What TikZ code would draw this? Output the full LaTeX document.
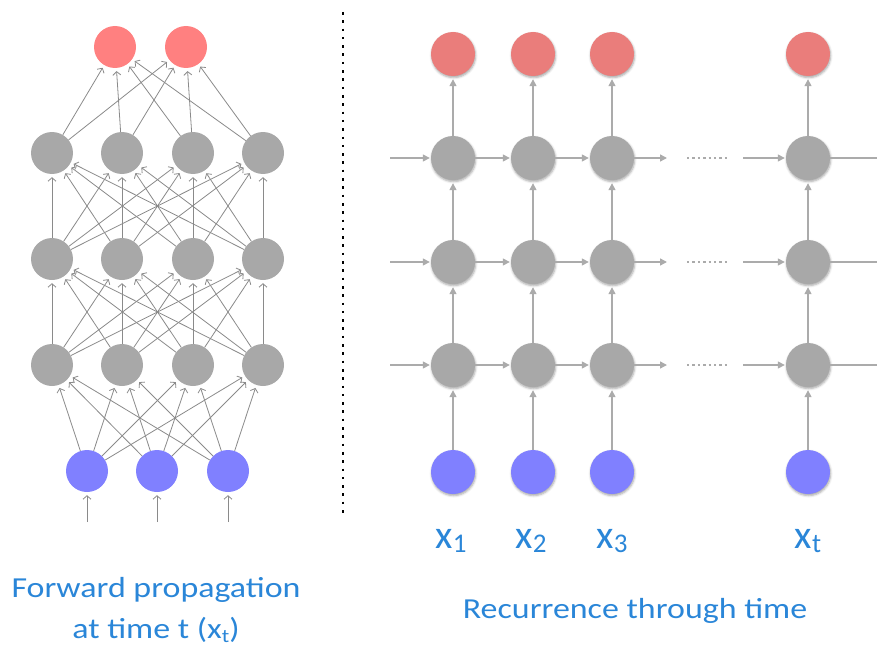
\documentclass[tikz,border=0pt]{standalone}
\usepackage{fontspec}
\setmainfont{Carlito}
\usetikzlibrary{arrows.meta,shadows.blur}
\definecolor{ffred}{HTML}{FF8080}
\definecolor{rnnred}{HTML}{EA7D7B}
\definecolor{unitgrey}{HTML}{A8A8A8}
\definecolor{inblue}{HTML}{8080FF}
\definecolor{edgegrey}{HTML}{8A8A8A}
\definecolor{linkgrey}{HTML}{ABABAB}
\definecolor{labelblue}{HTML}{2A86D8}
\newcommand{\xsub}[1]{x\raisebox{-0.12em}{\fontsize{27}{27}\selectfont #1}}
\newcommand{\widetext}[1]{\scalebox{1.17}[1]{#1}}
\begin{document}
\begin{tikzpicture}[x=1pt,y=-1pt,
  ffunit/.style={circle,minimum size=42pt,inner sep=0pt},
  rnnunit/.style={circle,minimum size=44pt,inner sep=0pt,
    blur shadow={shadow xshift=0.6pt,shadow yshift=-1.6pt,shadow blur radius=2.2pt,shadow opacity=35}},
  ffedge/.style={draw=edgegrey,line width=0.8pt,shorten >=3pt,
    -{Straight Barb[length=3.5pt,width=8pt,line width=0.8pt]}},
  rnnlink/.style={draw=linkgrey,line width=1.4pt,shorten >=1pt,
    -{Triangle[length=7pt,width=7pt]}},
  rnnplain/.style={draw=linkgrey,line width=1.4pt},
  gap/.style={draw=linkgrey,line width=2pt,dash pattern=on 2.4pt off 3pt},
  caption/.style={text=labelblue,font=\fontsize{29}{41}\selectfont,align=center},
  xlabel/.style={text=labelblue,font=\fontsize{40}{40}\selectfont,anchor=base}]
\useasboundingbox (0,0) rectangle (877,650);

% ---------- feed-forward network ----------
\foreach \i/\x in {1/87,2/157,3/228} {
  \node[ffunit,fill=inblue] (in\i) at (\x,471) {};
  \coordinate (src\i) at (\x,522);
}
\foreach \j/\x in {1/52,2/122,3/193,4/263} {
  \node[ffunit,fill=unitgrey] (ha\j) at (\x,365) {};
  \node[ffunit,fill=unitgrey] (hb\j) at (\x,259) {};
  \node[ffunit,fill=unitgrey] (hc\j) at (\x,153) {};
}
\node[ffunit,fill=ffred] (out1) at (115,47) {};
\node[ffunit,fill=ffred] (out2) at (186,47) {};

\foreach \i in {1,2,3} {
  \draw[ffedge] (src\i) -- (in\i);
  \foreach \j in {1,...,4} \draw[ffedge] (in\i) -- (ha\j);
}
\foreach \i in {1,...,4} {
  \foreach \j in {1,...,4} {
    \draw[ffedge] (ha\i) -- (hb\j);
    \draw[ffedge] (hb\i) -- (hc\j);
  }
  \draw[ffedge] (hc\i) -- (out1);
  \draw[ffedge] (hc\i) -- (out2);
}

% ---------- separator ----------
\coordinate (septop) at (343,12);
\coordinate (sepbot) at (343,518);
\draw[line width=2.6pt,dash pattern=on 2.6pt off 5.7pt] (septop) -- (sepbot);

% ---------- recurrent network unrolled in time ----------
\foreach \k/\x in {1/453,2/533,3/612,4/808} {
  \node[rnnunit,fill=rnnred] (y\k) at (\x,54) {};
  \node[rnnunit,fill=unitgrey] (p\k) at (\x,158) {};
  \node[rnnunit,fill=unitgrey] (q\k) at (\x,262) {};
  \node[rnnunit,fill=unitgrey] (r\k) at (\x,365) {};
  \node[rnnunit,fill=inblue] (u\k) at (\x,472) {};
  \draw[rnnlink,shorten >=3pt] (u\k) -- (r\k);
  \draw[rnnlink,shorten >=3pt] (r\k) -- (q\k);
  \draw[rnnlink,shorten >=3pt] (q\k) -- (p\k);
  \draw[rnnlink,shorten >=3pt] (p\k) -- (y\k);
}
\foreach \row/\y in {p/158,q/262,r/365} {
  \coordinate (\row start) at (390,\y);
  \coordinate (\row more) at (668,\y);
  \coordinate (\row dotA) at (687,\y);
  \coordinate (\row dotB) at (729,\y);
  \coordinate (\row back) at (743,\y);
  \coordinate (\row end) at (877,\y);
  \draw[rnnlink] (\row start) -- (\row1);
  \draw[rnnlink] (\row1) -- (\row2);
  \draw[rnnlink] (\row2) -- (\row3);
  \draw[rnnlink] (\row3) -- (\row more);
  \draw[gap] (\row dotA) -- (\row dotB);
  \draw[rnnlink] (\row back) -- (\row4);
  \draw[rnnplain] (\row4) -- (\row end);
}

% ---------- labels ----------
\node[xlabel] (lx1) at (451,548) {\xsub{1}};
\node[xlabel] (lx2) at (531,548) {\xsub{2}};
\node[xlabel] (lx3) at (612,548) {\xsub{3}};
\node[xlabel] (lxt) at (808,548) {\xsub{t}};

\node[caption] (capff) at (156,610) {\widetext{Forward propagation}\\\widetext{at time t (x\raisebox{-0.12em}{\fontsize{19}{19}\selectfont t})}};
\node[caption] (caprnn) at (635,611) {\widetext{Recurrence through time}};
\end{tikzpicture}
\end{document}
